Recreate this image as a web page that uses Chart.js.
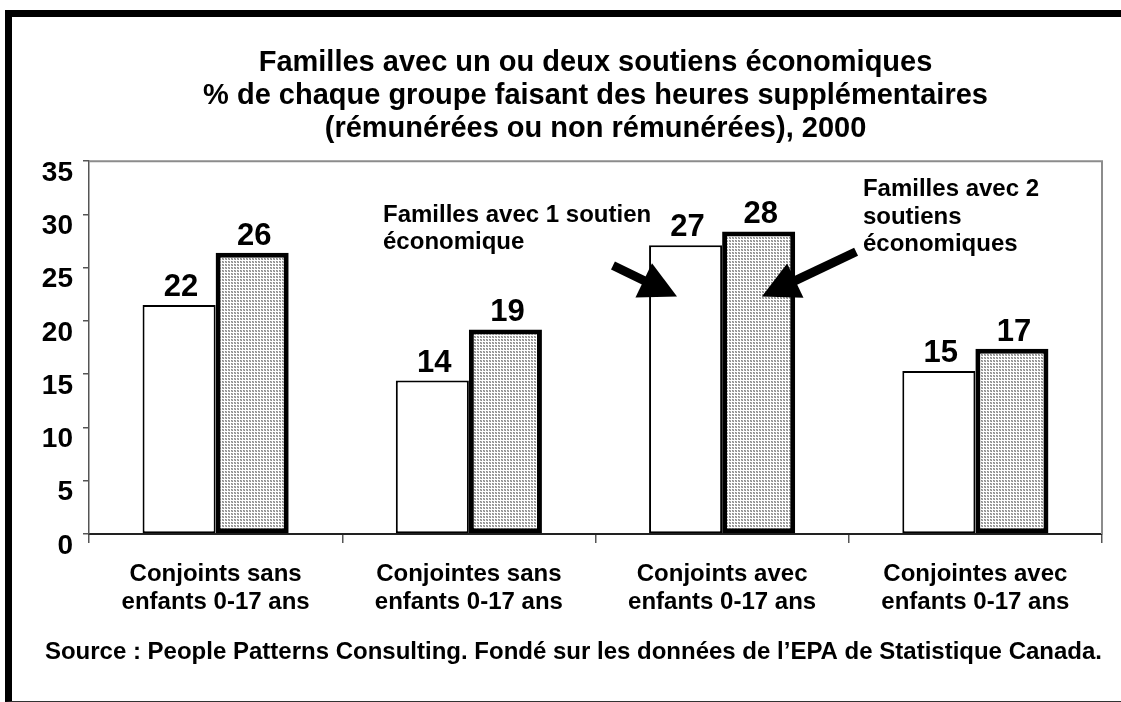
<!DOCTYPE html>
<html>
<head>
<meta charset="utf-8">
<script src="https://cdn.jsdelivr.net/npm/chart.js@4.4.0/dist/chart.umd.min.js"></script>
<style>
  html, body { margin: 0; padding: 0; background: #fff; }
  #frame {
    position: absolute; left: 5px; top: 10px; width: 1116px; height: 692px;
    box-sizing: border-box;
    border-top: 7px solid #000; border-left: 7px solid #000; border-bottom: 1px solid #333;
  }
  #wrap { position: absolute; left: 0; top: 0; width: 1121px; height: 702px; }
</style>
</head>
<body>
<div id="frame"></div>
<div id="wrap"><canvas id="chart" width="1121" height="702"></canvas></div>
<script>
const categories = [
  ['Conjoints sans', 'enfants 0-17 ans'],
  ['Conjointes sans', 'enfants 0-17 ans'],
  ['Conjoints avec', 'enfants 0-17 ans'],
  ['Conjointes avec', 'enfants 0-17 ans']
];
const oneEarner = [21.5, 14.4, 27.1, 15.3];
const twoEarners = [26.4, 19.2, 28.4, 17.4];
const yTicks = [0, 5, 10, 15, 20, 25, 30, 35];

const titleLines = [
  'Familles avec un ou deux soutiens économiques',
  '% de chaque groupe faisant des heures supplémentaires',
  '(rémunérées ou non rémunérées), 2000'
];
const sourceText = 'Source : People Patterns Consulting. Fondé sur les données de l’EPA de Statistique Canada.';

// callouts placed in data units: [category index, value]
const notes = [
  { lines: ['Familles avec 1 soutien', 'économique'], at: [0.661, 29.3], tail: [1.569, 25.2], tip: [1.822, 22.3] },
  { lines: ['Familles avec 2', 'soutiens', 'économiques'], at: [2.556, 31.7], tail: [2.529, 26.5], tip: [2.157, 22.3] }
];

const FONT = '"Liberation Sans", Arial, Helvetica, sans-serif';

function dotPattern(ctx) {
  const c = document.createElement('canvas');
  c.width = 3; c.height = 3;
  const g = c.getContext('2d');
  g.fillStyle = '#fff'; g.fillRect(0, 0, 3, 3);
  g.fillStyle = '#8a8a8a'; g.fillRect(0, 0, 1, 1); g.fillRect(1, 1, 1, 1);
  g.fillStyle = '#b4b4b4'; g.fillRect(1, 0, 1, 1); g.fillRect(0, 1, 1, 1);
  return ctx.createPattern(c, 'repeat');
}

const plotFrame = {
  id: 'plotFrame',
  beforeDatasetsDraw(chart) {
    const { ctx, chartArea: a } = chart;
    ctx.save();
    ctx.strokeStyle = '#8c8c8c';
    ctx.lineWidth = 2;
    ctx.beginPath();
    ctx.moveTo(a.left, a.top);
    ctx.lineTo(a.right, a.top);
    ctx.lineTo(a.right, a.bottom);
    ctx.stroke();
    ctx.restore();
  }
};

const valueLabels = {
  id: 'valueLabels',
  afterDatasetsDraw(chart) {
    const ctx = chart.ctx;
    ctx.save();
    ctx.font = 'bold 31px ' + FONT;
    ctx.fillStyle = '#000';
    ctx.textAlign = 'center';
    ctx.textBaseline = 'alphabetic';
    chart.data.datasets.forEach((ds, di) => {
      chart.getDatasetMeta(di).data.forEach((bar, i) => {
        ctx.fillText(String(Math.round(ds.data[i])), bar.x + 2, bar.y - (di ? 8 : 9));
      });
    });
    ctx.restore();
  }
};

function drawArrow(ctx, x0, y0, x1, y1) {
  const dx = x1 - x0, dy = y1 - y0;
  const len = Math.hypot(dx, dy);
  const ux = dx / len, uy = dy / len;
  const headLen = 37, half = 19;
  const bx = x1 - ux * headLen, by = y1 - uy * headLen;
  ctx.lineWidth = 9;
  ctx.lineCap = 'butt';
  ctx.beginPath();
  ctx.moveTo(x0, y0);
  ctx.lineTo(bx + ux * 3, by + uy * 3);
  ctx.stroke();
  ctx.beginPath();
  ctx.moveTo(x1, y1);
  ctx.lineTo(bx - uy * half, by + ux * half);
  ctx.lineTo(bx + uy * half, by - ux * half);
  ctx.closePath();
  ctx.fill();
}

const callouts = {
  id: 'callouts',
  afterDraw(chart) {
    const { ctx, scales: { x, y } } = chart;
    ctx.save();
    ctx.fillStyle = '#000';
    ctx.strokeStyle = '#000';
    ctx.font = 'bold 24px ' + FONT;
    ctx.textAlign = 'left';
    ctx.textBaseline = 'alphabetic';
    notes.forEach(n => {
      const tx = x.getPixelForValue(n.at[0]);
      const ty = y.getPixelForValue(n.at[1]);
      n.lines.forEach((line, i) => ctx.fillText(line, tx, ty + i * 27.5));
      drawArrow(ctx,
        x.getPixelForValue(n.tail[0]), y.getPixelForValue(n.tail[1]),
        x.getPixelForValue(n.tip[0]), y.getPixelForValue(n.tip[1]));
    });
    ctx.restore();
  }
};

const canvas = document.getElementById('chart');
const ctx = canvas.getContext('2d');

new Chart(ctx, {
  type: 'bar',
  data: {
    labels: categories,
    datasets: [
      {
        label: 'Familles avec 1 soutien économique',
        data: oneEarner,
        backgroundColor: '#fff',
        borderColor: '#000',
        borderWidth: 2,
        borderSkipped: false,
        categoryPercentage: 0.577,
        barPercentage: 1
      },
      {
        label: 'Familles avec 2 soutiens économiques',
        data: twoEarners,
        backgroundColor: dotPattern(ctx),
        borderColor: '#000',
        borderWidth: 5,
        borderSkipped: false,
        categoryPercentage: 0.577,
        barPercentage: 1
      }
    ]
  },
  options: {
    responsive: false,
    animation: false,
    layout: { padding: { left: 0, right: 19, top: 0, bottom: 0 } },
    plugins: {
      legend: { display: false },
      tooltip: { enabled: false },
      title: {
        display: true,
        text: titleLines,
        fullSize: false,
        color: '#000',
        font: { family: FONT, size: 29, weight: 'bold', lineHeight: 1.14 },
        padding: { top: 46, bottom: 16 }
      },
      subtitle: {
        display: true,
        text: sourceText,
        position: 'bottom',
        align: 'end',
        color: '#000',
        font: { family: FONT, size: 24, weight: 'bold', lineHeight: 1.2 },
        padding: { top: 0, bottom: 35.6 }
      }
    },
    scales: {
      x: {
        grid: { offset: true, drawOnChartArea: false, drawTicks: true, tickLength: 9, color: '#555', lineWidth: 1.5 },
        border: { color: '#222', width: 2 },
        ticks: {
          color: '#000',
          font: { family: FONT, size: 24, weight: 'bold', lineHeight: 1.17 },
          padding: 17,
          maxRotation: 0,
          autoSkip: false
        },
        afterFit: s => { s.height = 103.6; }
      },
      y: {
        min: 0,
        max: 35,
        afterBuildTicks: s => { s.ticks = yTicks.map(v => ({ value: v })); },
        afterFit: s => { s.width = 89; },
        grid: { drawOnChartArea: false, drawTicks: true, tickLength: 6, color: '#555', lineWidth: 1.5 },
        border: { color: '#555', width: 1.5 },
        ticks: {
          color: '#000',
          font: { family: FONT, size: 28, weight: 'bold' },
          padding: 10,
          labelOffset: 12
        }
      }
    }
  },
  plugins: [plotFrame, valueLabels, callouts]
});
</script>
</body>
</html>
